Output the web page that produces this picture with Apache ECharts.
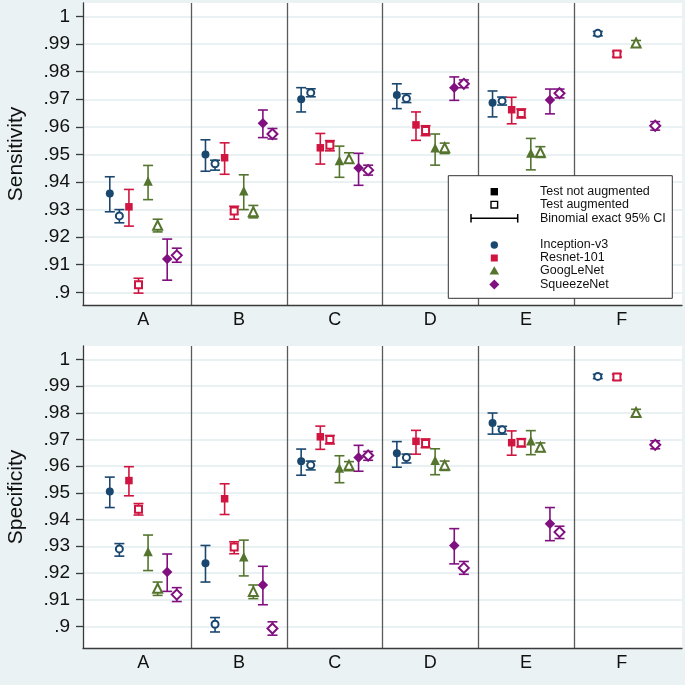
<!DOCTYPE html>
<html>
<head>
<meta charset="utf-8">
<script src="https://cdn.jsdelivr.net/npm/echarts@6.0.0/dist/echarts.min.js"></script>
<style>
html,body{margin:0;padding:0;background:#EAF2F3;}
#chart{width:685px;height:685px;}
</style>
</head>
<body>
<div id="chart"></div>
<script>
// ---------- DATA ----------
const categories = ['A', 'B', 'C', 'D', 'E', 'F'];
const models = ['Inception-v3', 'Resnet-101', 'GoogLeNet', 'SqueezeNet'];
const yTicks = [0.9, 0.91, 0.92, 0.93, 0.94, 0.95, 0.96, 0.97, 0.98, 0.99, 1];

// each entry: [estimate, CI lower, CI upper]; null = not shown
// Sensitivity
const sensInceptionNot = [[.9358,.9292,.9419],[.9500,.9439,.9553],[.9700,.9654,.9742],[.9715,.9666,.9756],[.9687,.9636,.9730],null];
const sensInceptionAug = [[.9277,.9252,.9300],[.9466,.9443,.9479],[.9724,.9709,.9738],[.9703,.9688,.9720],[.9694,.9679,.9708],[.9939,.9930,.9946]];
const sensResnetNot    = [[.9310,.9240,.9373],[.9488,.9428,.9542],[.9524,.9465,.9576],[.9607,.9551,.9654],[.9662,.9611,.9707],null];
const sensResnetAug    = [[.9027,.8997,.9051],[.9295,.9265,.9312],[.9533,.9513,.9550],[.9587,.9568,.9604],[.9648,.9632,.9665],[.9864,.9853,.9873]];
const sensGoogleNot    = [[.9404,.9336,.9460],[.9368,.9300,.9426],[.9478,.9417,.9530],[.9524,.9461,.9574],[.9505,.9444,.9558],null];
const sensGoogleAug    = [[.9243,.9219,.9265],[.9292,.9270,.9315],[.9484,.9469,.9506],[.9524,.9503,.9541],[.9508,.9489,.9528],[.9904,.9893,.9913]];
const sensSqueezeNot   = [[.9121,.9044,.9193],[.9613,.9561,.9661],[.9451,.9388,.9504],[.9742,.9696,.9781],[.9697,.9647,.9737],null];
const sensSqueezeAug   = [[.9134,.9109,.9160],[.9574,.9556,.9594],[.9443,.9425,.9461],[.9756,.9742,.9770],[.9722,.9705,.9737],[.9604,.9588,.9619]];
// Specificity
const specInceptionNot = [[.9505,.9445,.9559],[.9236,.9166,.9303],[.9618,.9566,.9664],[.9648,.9596,.9692],[.9762,.9720,.9799],null];
const specInceptionAug = [[.9290,.9263,.9310],[.9008,.8979,.9033],[.9604,.9586,.9619],[.9632,.9612,.9645],[.9736,.9720,.9749],[.9936,.9928,.9944]];
const specResnetNot    = [[.9546,.9489,.9598],[.9478,.9419,.9534],[.9710,.9663,.9750],[.9693,.9645,.9734],[.9688,.9641,.9732],null];
const specResnetAug    = [[.9439,.9417,.9460],[.9297,.9272,.9317],[.9700,.9683,.9715],[.9685,.9669,.9702],[.9688,.9672,.9703],[.9934,.9923,.9944]];
const specGoogleNot    = [[.9280,.9209,.9342],[.9261,.9189,.9323],[.9593,.9538,.9639],[.9622,.9568,.9665],[.9695,.9643,.9733],null];
const specGoogleAug    = [[.9143,.9116,.9166],[.9131,.9104,.9155],[.9603,.9583,.9617],[.9603,.9584,.9619],[.9671,.9655,.9687],[.9801,.9788,.9813]];
const specSqueezeNot   = [[.9204,.9131,.9271],[.9155,.9081,.9225],[.9632,.9581,.9678],[.9303,.9234,.9366],[.9384,.9321,.9445],null];
const specSqueezeAug   = [[.9119,.9093,.9145],[.8992,.8967,.9017],[.9640,.9622,.9655],[.9219,.9195,.9243],[.9353,.9329,.9375],[.9680,.9665,.9695]];

// ---------- STYLE ----------
const colors = ['#1A476F', '#CF1540', '#55752F', '#80107F'];
const filledSym = ['circle', 'rect', 'triangle', 'diamond'];
const emptySym = ['emptyCircle', 'emptyRect', 'emptyTriangle', 'emptyDiamond'];
const filledSize = [8, 7.5, 9.5, 10.5];
const emptySize = [7, 7, 9, 10];
const FONT = 'Liberation Sans, Arial, Helvetica, sans-serif';

const panels = [
  { name: 'Sensitivity', min: 0.8954, max: 1.0049,
    data: [[sensInceptionNot, sensInceptionAug], [sensResnetNot, sensResnetAug], [sensGoogleNot, sensGoogleAug], [sensSqueezeNot, sensSqueezeAug]] },
  { name: 'Specificity', min: 0.8919, max: 1.0050,
    data: [[specInceptionNot, specInceptionAug], [specResnetNot, specResnetAug], [specGoogleNot, specGoogleAug], [specSqueezeNot, specSqueezeAug]] }
];

function fmtY(v) {
  if (Math.abs(v - 1) < 1e-9) return '1';
  let s = v.toFixed(2).replace(/0+$/, '');
  return s.replace(/^0/, '');
}

const grids = [], xAxes = [], yAxes = [], series = [];
panels.forEach((p, pi) => {
  grids.push({ left: 83, width: 599, top: pi === 0 ? 3 : 346, height: 302,
    outerBoundsMode: 'none', containLabel: false,
    show: true, backgroundColor: '#ffffff', borderWidth: 0 });
  xAxes.push({
    type: 'value', gridIndex: pi, min: 0.37, max: 6.63,
    axisLine: { show: true, onZero: false, lineStyle: { color: '#3a3a3a', width: 1.3 } },
    axisTick: { show: false, customValues: [1.5, 2.5, 3.5, 4.5, 5.5] },
    splitLine: { show: true, lineStyle: { color: '#5a5a5a', width: 1.3 } },
    axisLabel: { customValues: [1, 2, 3, 4, 5, 6], formatter: v => categories[Math.round(v) - 1],
      fontFamily: FONT, fontSize: 18, color: '#111', margin: 6 }
  });
  yAxes.push({
    type: 'value', gridIndex: pi, min: p.min, max: p.max,
    name: p.name, nameLocation: 'middle', nameGap: 56, nameRotate: 90,
    nameTextStyle: { fontFamily: FONT, fontSize: 21, color: '#111' },
    axisLine: { show: true, lineStyle: { color: '#3a3a3a', width: 1.3 } },
    axisTick: { show: true, length: 7, customValues: yTicks, lineStyle: { color: '#3a3a3a', width: 1.3 } },
    axisLabel: { customValues: yTicks, formatter: fmtY, fontFamily: FONT, fontSize: 19, color: '#111', margin: 13 },
    splitLine: { show: true, lineStyle: { color: '#E2EDEF', width: 1.5 } }
  });
  p.data.forEach((pair, mi) => {
    pair.forEach((arr, ai) => {
      const offset = -0.35 + 0.2 * mi + 0.1 * ai;
      const pts = [], bars = [];
      arr.forEach((d, ci) => {
        if (!d) return;
        const xv = ci + 1 + offset;
        pts.push([xv, d[0]]);
        bars.push([xv, d[1], d[2]]);
      });
      const col = colors[mi];
      series.push({
        type: 'custom', xAxisIndex: pi, yAxisIndex: pi, z: 2, silent: true,
        data: bars,
        renderItem: (params, api) => {
          const x = api.value(0), lo = api.value(1), hi = api.value(2);
          const a = api.coord([x, lo]), b = api.coord([x, hi]);
          const w = 5;
          const st = { stroke: col, lineWidth: 1.6, fill: null };
          return { type: 'group', children: [
            { type: 'line', shape: { x1: a[0], y1: a[1], x2: b[0], y2: b[1] }, style: st },
            { type: 'line', shape: { x1: a[0] - w, y1: a[1], x2: a[0] + w, y2: a[1] }, style: st },
            { type: 'line', shape: { x1: b[0] - w, y1: b[1], x2: b[0] + w, y2: b[1] }, style: st }
          ]};
        }
      });
      series.push({
        type: 'scatter', xAxisIndex: pi, yAxisIndex: pi, z: 3, silent: true,
        name: models[mi] + (ai ? ' aug' : ''),
        symbol: ai ? emptySym[mi] : filledSym[mi],
        symbolSize: ai ? emptySize[mi] : filledSize[mi],
        itemStyle: { color: col, borderColor: col, borderWidth: ai ? 1.6 : 0, opacity: 1 },
        data: pts
      });
    });
  });
});

// ---------- LEGEND (drawn as graphics) ----------
const lgX = 494.3, txtX = 540;
const lgTexts = [
  ['Test not augmented', 191.7], ['Test augmented', 204.7], ['Binomial exact 95% CI', 218.2],
  [models[0], 245], [models[1], 258], [models[2], 271], [models[3], 284.5]
];
const graphic = [
  { type: 'rect', z: 100, shape: { x: 448.3, y: 175.7, width: 224, height: 122.6 },
    style: { fill: '#fff', stroke: '#333', lineWidth: 1 } },
  { type: 'rect', z: 101, shape: { x: lgX - 3.7, y: 191.7 - 3.7, width: 7.4, height: 7.4 }, style: { fill: '#000' } },
  { type: 'rect', z: 101, shape: { x: lgX - 3.3, y: 204.7 - 3.3, width: 6.6, height: 6.6 },
    style: { fill: '#fff', stroke: '#000', lineWidth: 1.4 } },
  { type: 'line', z: 101, shape: { x1: 471, y1: 218.3, x2: 517.7, y2: 218.3 }, style: { stroke: '#000', lineWidth: 1.5 } },
  { type: 'line', z: 101, shape: { x1: 471, y1: 214, x2: 471, y2: 222.6 }, style: { stroke: '#000', lineWidth: 1.5 } },
  { type: 'line', z: 101, shape: { x1: 517.7, y1: 214, x2: 517.7, y2: 222.6 }, style: { stroke: '#000', lineWidth: 1.5 } },
  { type: 'circle', z: 101, shape: { cx: lgX, cy: 245, r: 3.7 }, style: { fill: colors[0] } },
  { type: 'rect', z: 101, shape: { x: lgX - 3.5, y: 258 - 3.5, width: 7, height: 7 }, style: { fill: colors[1] } },
  { type: 'polygon', z: 101, shape: { points: [[lgX, 271 - 4.8], [lgX + 4.8, 271 + 3.6], [lgX - 4.8, 271 + 3.6]] }, style: { fill: colors[2] } },
  { type: 'polygon', z: 101, shape: { points: [[lgX, 284.5 - 5], [lgX + 5, 284.5], [lgX, 284.5 + 5], [lgX - 5, 284.5]] }, style: { fill: colors[3] } }
];
lgTexts.forEach(t => graphic.push({
  type: 'text', z: 101, x: txtX, y: t[1],
  style: { text: t[0], fill: '#111', font: '12.5px ' + FONT, verticalAlign: 'middle', align: 'left' }
}));

const chart = echarts.init(document.getElementById('chart'));
chart.setOption({
  backgroundColor: '#EAF2F3',
  animation: false,
  grid: grids, xAxis: xAxes, yAxis: yAxes, series: series, graphic: graphic
});
</script>
</body>
</html>
